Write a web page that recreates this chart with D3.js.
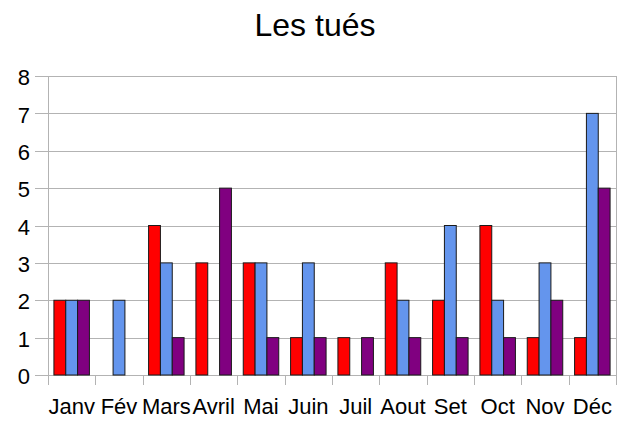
<!DOCTYPE html>
<html lang="fr">
<head>
<meta charset="utf-8">
<title>Les tués</title>
<script src="https://d3js.org/d3.v7.min.js"></script>
<style>
  body{margin:0;background:#fff;font-family:"Liberation Sans",Arial,sans-serif;}
</style>
</head>
<body>
<div id="chart"></div>
<script>
// data
var months = ["Janv","Fév","Mars","Avril","Mai","Juin","Juil","Aout","Set","Oct","Nov","Déc"]
var serieA = [2,0,4,3,3,1,1,3,2,4,1,1]
var serieB = [2,2,3,0,3,3,0,2,4,2,3,7]
var serieC = [2,0,1,5,1,1,1,1,1,1,2,5]
var yTicks = [0,1,2,3,4,5,6,7,8]
var colors = ["#ff0000","#6495ed","#800080"]

var w = 622, h = 421
var mLeft = 48, mRight = 616, mTop = 76, mBottom = 375

var svg = d3.select("#chart").append("svg").attr("width",w).attr("height",h)

var x = d3.scaleBand().domain(months).range([mLeft,mRight])
var xs = d3.scaleBand().domain([0,1,2]).range([0,x.bandwidth()]).paddingOuter(0.5).paddingInner(0)
var y = d3.scaleLinear().domain([0,8]).range([mBottom,mTop])

// grid
svg.append("g").selectAll("line").data(yTicks).enter().append("line")
  .attr("x1",mLeft-13).attr("x2",mRight)
  .attr("y1",function(d){return Math.round(y(d))+0.5}).attr("y2",function(d){return Math.round(y(d))+0.5})
  .attr("stroke","#b3b3b3").attr("stroke-width",1)

// vertical axis line + right border
svg.append("line").attr("x1",mLeft+0.5).attr("x2",mLeft+0.5).attr("y1",mTop).attr("y2",mBottom+10)
  .attr("stroke","#b3b3b3")
svg.append("line").attr("x1",mRight+0.5).attr("x2",mRight+0.5).attr("y1",mTop).attr("y2",mBottom+10)
  .attr("stroke","#b3b3b3")

// category ticks
svg.append("g").selectAll("line").data(months.slice(1)).enter().append("line")
  .attr("x1",function(d){return Math.round(x(d))+0.5}).attr("x2",function(d){return Math.round(x(d))+0.5})
  .attr("y1",mBottom).attr("y2",mBottom+10)
  .attr("stroke","#b3b3b3")

// bars
var rows = months.map(function(m,i){return {m:m, v:[serieA[i],serieB[i],serieC[i]]}})
var groups = svg.append("g").selectAll("g").data(rows).enter().append("g")
  .attr("transform",function(d){return "translate("+x(d.m)+",0)"})
groups.selectAll("rect").data(function(d){return d.v.map(function(v,k){return {v:v,k:k}}).filter(function(e){return e.v>0})})
  .enter().append("rect")
  .attr("x",function(d){return xs(d.k)})
  .attr("y",function(d){return y(d.v)})
  .attr("width",xs.bandwidth())
  .attr("height",function(d){return y(0)-y(d.v)})
  .attr("fill",function(d){return colors[d.k]})
  .attr("stroke","#1a1a1a").attr("stroke-width",1)

// y labels
svg.append("g").selectAll("text").data(yTicks).enter().append("text")
  .attr("x",30).attr("y",function(d){return y(d)})
  .attr("dy","0.42em").attr("text-anchor","end")
  .attr("font-size",22).attr("fill","#000")
  .text(function(d){return d})

// x labels
svg.append("g").selectAll("text").data(months).enter().append("text")
  .attr("x",function(d){return x(d)+x.bandwidth()/2}).attr("y",414)
  .attr("text-anchor","middle").attr("font-size",22).attr("fill","#000")
  .text(function(d){return d})

// title
svg.append("text").attr("x",315).attr("y",36).attr("text-anchor","middle")
  .attr("font-size",32).attr("fill","#000").text("Les tués")
</script>
</body>
</html>
